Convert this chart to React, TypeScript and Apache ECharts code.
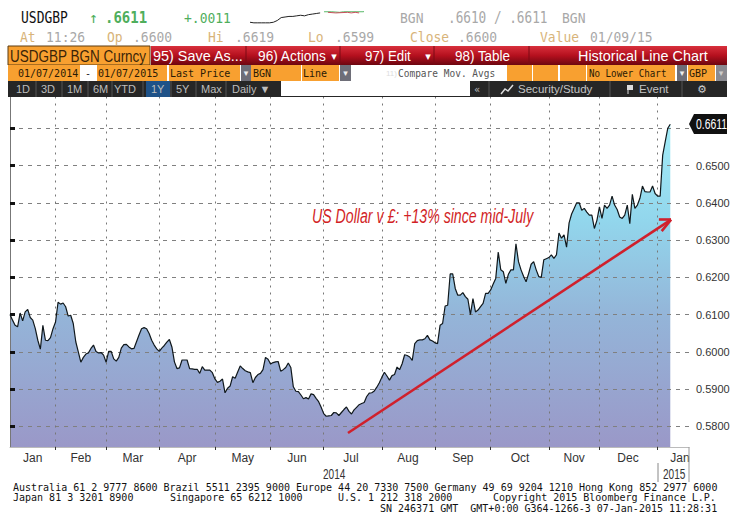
import React, { useEffect, useRef } from "react";
import * as echarts from "echarts";

// Daily USDGBP closes, one per trading session from 07 Jan 2014 to 07 Jan 2015
const closes = [
  0.61, 0.6085, 0.6071, 0.6067, 0.6104, 0.6083, 0.6107, 0.6114, 0.6092, 0.6085,
  0.6062, 0.6031, 0.6007, 0.6071, 0.6031, 0.603, 0.6038, 0.6062, 0.608, 0.6133,
  0.6128, 0.6131, 0.6121, 0.6096, 0.6098, 0.6076, 0.6027, 0.6, 0.5972, 0.5985,
  0.5994, 0.5997, 0.6009, 0.6018, 0.6001, 0.5997, 0.5998, 0.5991, 0.5972, 0.6001,
  0.6001, 0.5981, 0.5975, 0.5985, 0.601, 0.6019, 0.602, 0.6013, 0.6008, 0.6009,
  0.6027, 0.6045, 0.6062, 0.6065, 0.6062, 0.6049, 0.6031, 0.6018, 0.6008, 0.6001,
  0.601, 0.6017, 0.6026, 0.6033, 0.6013, 0.5973, 0.5955, 0.5957, 0.5978, 0.5978,
  0.5978, 0.5955, 0.5954, 0.5953, 0.5953, 0.5942, 0.596, 0.5951, 0.5951, 0.5951,
  0.5944, 0.5927, 0.5918, 0.5921, 0.5927, 0.589, 0.5902, 0.5908, 0.5933, 0.5929,
  0.5946, 0.5962, 0.5955, 0.5949, 0.5946, 0.5944, 0.5917, 0.5931, 0.5939, 0.5942,
  0.5952, 0.5985, 0.598, 0.5967, 0.5971, 0.5973, 0.5974, 0.5948, 0.5952, 0.5958,
  0.597, 0.5958, 0.5906, 0.5894, 0.5893, 0.5884, 0.5874, 0.5877, 0.5873, 0.5887,
  0.5885, 0.5875, 0.5866, 0.5851, 0.5834, 0.5827, 0.5828, 0.5829, 0.5837, 0.5836,
  0.5829, 0.5837, 0.5845, 0.5852, 0.584, 0.5833, 0.5844, 0.5851, 0.5858, 0.5861,
  0.5864, 0.588, 0.5889, 0.589, 0.5895, 0.5905, 0.5917, 0.5932, 0.5945, 0.5935,
  0.5924, 0.5936, 0.5939, 0.5959, 0.5952, 0.5968, 0.5992, 0.599, 0.5986, 0.5977,
  0.6022, 0.603, 0.6032, 0.6032, 0.6035, 0.6044, 0.6032, 0.6029, 0.6024, 0.6022,
  0.6071, 0.6076, 0.6123, 0.6125, 0.6209, 0.6209, 0.617, 0.6152, 0.6152, 0.6159,
  0.6148, 0.6141, 0.61, 0.6143, 0.6107, 0.6112, 0.6121, 0.613, 0.6157, 0.6157,
  0.6166, 0.6182, 0.6197, 0.6268, 0.622, 0.6215, 0.6184, 0.6208, 0.622, 0.622,
  0.629, 0.6242, 0.622, 0.6203, 0.6188, 0.621, 0.6235, 0.6242, 0.622, 0.6202,
  0.62, 0.6247, 0.625, 0.6253, 0.626, 0.6251, 0.626, 0.6319, 0.6305, 0.6314,
  0.6281, 0.6346, 0.637, 0.6385, 0.64, 0.64, 0.638, 0.6385, 0.6375, 0.6367,
  0.6367, 0.6331, 0.6353, 0.6389, 0.6358, 0.6394, 0.6385, 0.6394, 0.6418, 0.6394,
  0.6382, 0.6362, 0.6358, 0.6367, 0.6394, 0.6344, 0.6423, 0.6385, 0.6394, 0.6412,
  0.6445, 0.643, 0.6429, 0.6429, 0.6445, 0.6425, 0.6418, 0.6418, 0.6528, 0.6564,
  0.66, 0.6611,
];

const monthStarts = [18, 38, 59, 81, 103, 124, 147, 168, 190, 213, 233, 256];
const monthNames = ["Jan", "Feb", "Mar", "Apr", "May", "Jun", "Jul", "Aug", "Sep", "Oct", "Nov", "Dec", "Jan"];
const monthLabelAt = [9, 28, 48.6, 70, 92, 113.4, 134.8, 157.3, 179, 201.6, 223, 244.3, 264.8];
const priceGrid = [0.58, 0.59, 0.6, 0.61, 0.62, 0.63, 0.64, 0.65, 0.66];
const priceLabels = [0.58, 0.59, 0.6, 0.61, 0.62, 0.63, 0.64, 0.65];

const sparkEarlier = [0.66, 0.6599, 0.6599, 0.6599, 0.6599, 0.6599, 0.66, 0.6603, 0.6608, 0.6609, 0.661, 0.661, 0.6611, 0.6612, 0.6611, 0.6613, 0.6614, 0.6615, 0.6616];
const sparkUp = [0.6618, null, 0.6618, null, 0.6617, 0.6618, null, null, null, null, 0.6618, 0.6619];
const sparkDown = [null, 0.6617, null, 0.6616, null, null, 0.6617, 0.6616, 0.6617, 0.6616, null, null];

const arrowLine = [[133.6, 0.5782], [261.3, 0.6355]];
const arrowBarbs = [[[256.5, 0.6355], [261.3, 0.6355]], [[257.6, 0.6324], [261.3, 0.6355]]];

const MONO = '"DejaVu Sans Mono", monospace';
const SANS = '"Liberation Sans", sans-serif';
const GREEN = "#4fae5c";
const TAN = "#d8b47a";
const GREY = "#a8a8a8";
const ORANGE = "#f8a030";
const RED = "#d0202c";
const DARK = "#262626";

function label(text: string, x: number, y: number, fill: string, font: string, extra: any = {}) {
  const { scaleX, scaleY, align, z } = extra;
  return {
    type: "text", x, y, scaleX: scaleX ?? 1, scaleY: scaleY ?? 1, z: z ?? 20,
    style: { text, x: 0, y: 0, fill, font, textAlign: align ?? "left", textVerticalAlign: "middle" },
  };
}
function box(x: number, y: number, width: number, height: number, fill: any, extra: any = {}) {
  return { type: "rect", shape: { x, y, width, height }, z: 15, style: { fill, ...extra } };
}
function rule(x1: number, y1: number, x2: number, y2: number, stroke: string, lineWidth = 1) {
  return { type: "line", shape: { x1, y1, x2, y2 }, z: 16, style: { stroke, lineWidth } };
}

function headerGraphics() {
  const m13 = `13px ${MONO}`;
  const s14 = `14px ${SANS}`;
  const redBar = new echarts.graphic.LinearGradient(0, 0, 0, 1, [
    { offset: 0, color: "#d8303c" },
    { offset: 0.5, color: "#b5101e" },
    { offset: 1, color: "#6d0610" },
  ]);
  const els: any[] = [
    // first two rows
    label("USDGBP", 21, 18, "#111", m13, { scaleY: 1.2 }),
    label("↑", 89, 18, GREEN, `15px ${MONO}`),
    label(".6611", 105, 18, GREEN, `bold 14px ${MONO}`, { scaleY: 1.15 }),
    label("+.0011", 184, 18, GREEN, m13, { scaleY: 1.15 }),
    label("BGN", 400, 18, GREY, m13, { scaleY: 1.15 }),
    label(".6610 / .6611", 448, 18, GREY, `12px ${MONO}`, { scaleX: 1.06, scaleY: 1.25 }),
    label("BGN", 562, 18, GREY, m13, { scaleY: 1.15 }),
    label("At", 20, 37, TAN, m13, { scaleY: 1.15 }),
    label("11:26", 46, 37, GREY, m13, { scaleY: 1.15 }),
    label("Op", 107, 37, TAN, m13, { scaleY: 1.15 }),
    label(".6600", 133, 37, GREY, m13, { scaleY: 1.15 }),
    label("Hi", 208, 37, TAN, m13, { scaleY: 1.15 }),
    label(".6619", 235, 37, GREY, m13, { scaleY: 1.15 }),
    label("Lo", 308, 37, TAN, m13, { scaleY: 1.15 }),
    label(".6599", 335, 37, GREY, m13, { scaleY: 1.15 }),
    label("Close", 410, 37, TAN, m13, { scaleY: 1.15 }),
    label(".6600", 458, 37, GREY, m13, { scaleY: 1.15 }),
    label("Value", 540, 37, TAN, m13, { scaleY: 1.15 }),
    label("01/09/15", 590, 37, GREY, m13, { scaleY: 1.15 }),

    // title bar
    box(8, 46, 142, 19, ORANGE, { stroke: "#5a3a10", lineWidth: 1 }),
    label("USDGBP BGN Curncy", 10, 56, "#3a2408", `15px ${SANS}`, { scaleX: 0.9, scaleY: 1.12 }),
    box(151, 46, 576, 19, redBar),
    rule(246, 46, 246, 65, "#7a0a14"),
    rule(340, 46, 340, 65, "#7a0a14"),
    rule(434, 46, 434, 65, "#7a0a14"),
    rule(529, 46, 529, 65, "#7a0a14"),
    label("95) Save As...", 153, 56, "#fff", s14, { scaleX: 1.03, scaleY: 1.1 }),
    label("96) Actions", 258, 56, "#fff", s14, { scaleX: 0.98, scaleY: 1.1 }),
    label("▾", 334, 56, "#fff", `11px "DejaVu Sans"`, { align: "center" }),
    label("97) Edit", 365, 56, "#fff", s14, { scaleX: 0.95, scaleY: 1.1 }),
    label("▾", 428, 56, "#fff", `11px "DejaVu Sans"`, { align: "center" }),
    label("98) Table", 455, 56, "#fff", s14, { scaleX: 0.96, scaleY: 1.1 }),
    label("Historical Line Chart", 578, 56, "#fff", s14, { scaleX: 1.03, scaleY: 1.1 }),

    // parameters row
    box(8, 65, 72, 16, ORANGE),
    label("01/07/2014", 18, 73, "#2a1a05", `10px ${MONO}`),
    box(80, 65, 17, 16, "#fff"),
    label("-", 88, 73, "#222", `10px ${MONO}`, { align: "center" }),
    box(97, 65, 70, 16, ORANGE),
    label("01/07/2015", 98, 73, "#2a1a05", `10px ${MONO}`),
    box(169, 65, 71, 16, ORANGE),
    label("Last Price", 170, 73, "#2a1a05", `10px ${MONO}`),
    box(241, 65, 10, 16, "#6e6e78"),
    label("▾", 246, 73, "#eee", `9px "DejaVu Sans"`, { align: "center" }),
    box(251, 65, 50, 16, ORANGE),
    label("BGN", 253, 73, "#2a1a05", `10px ${MONO}`),
    box(302, 65, 37, 16, ORANGE),
    label("Line", 303, 73, "#2a1a05", `10px ${MONO}`),
    box(340, 65, 11, 16, "#6e6e78"),
    label("▾", 345.5, 73, "#eee", `9px "DejaVu Sans"`, { align: "center" }),
    box(351, 65, 156, 16, "#fff"),
    label("11)", 386, 73, "#ddd", `8px ${SANS}`),
    label("Compare Mov. Avgs", 398, 73, "#555", `10px ${MONO}`, { scaleX: 0.95 }),
    box(507, 65, 25, 16, ORANGE),
    box(533, 65, 25, 16, ORANGE),
    box(560, 65, 26, 16, ORANGE),
    box(587, 65, 88, 16, ORANGE),
    label("No Lower Chart", 589, 73, "#2a1a05", `10px ${MONO}`, { scaleX: 0.92 }),
    box(677, 65, 10, 16, "#6e6e78"),
    label("▾", 682, 73, "#eee", `9px "DejaVu Sans"`, { align: "center" }),
    box(688, 65, 27, 16, ORANGE),
    label("GBP", 689, 73, "#2a1a05", `10px ${MONO}`),
    box(716, 65, 11, 16, "#8a8a90"),
    label("▾", 721, 73, "#ccc", `9px "DejaVu Sans"`, { align: "center" }),

    // period row
    box(8, 81, 719, 16, DARK),
    box(146, 81, 24, 16, "#1f5288"),
    box(281, 81, 189, 15, "#fff"),
    label("«", 477, 89, "#bbb", `10px "DejaVu Sans"`, { align: "center" }),
    label("Security/Study", 518, 89, "#c4c4c4", `11px ${SANS}`, { scaleX: 1.05 }),
    { type: "polyline", z: 20, shape: { points: [[501, 94], [505, 89], [508, 91], [513, 85]] }, style: { stroke: "#ddd", lineWidth: 1.5, fill: "none" } },
    box(627, 85, 6, 5, "#ddd"),
    rule(628, 85, 628, 94, "#ddd"),
    label("Event", 639, 89, "#c4c4c4", `11px ${SANS}`, { scaleX: 1.05 }),
    label("⚙", 702, 89, "#ccc", `11px "DejaVu Sans"`, { align: "center" }),
    rule(489, 81, 489, 97, "#555"),
    rule(610, 81, 610, 97, "#555"),
    rule(682, 81, 682, 97, "#555"),
  ];
  const periods: [string, number][] = [["1D", 16], ["3D", 41], ["1M", 67], ["6M", 93], ["YTD", 114], ["1Y", 151], ["5Y", 176], ["Max", 201], ["Daily ▼", 232]];
  periods.forEach(([t, x]) => els.push(label(t, x, 89, "#bdbdbd", `11px ${SANS}`)));
  [36, 62, 88, 112, 143, 171, 196, 226].forEach((x) => els.push(rule(x, 81, x, 97, "#555")));
  return els;
}

function footerGraphics() {
  const f = `10px ${MONO}`;
  return [
    label("2014", 323, 474, "#333", `14px ${SANS}`, { scaleX: 0.72, scaleY: 1.05 }),
    rule(658, 463, 658, 482, "#888"),
    label("2015", 663, 474, "#333", `14px ${SANS}`, { scaleX: 0.72, scaleY: 1.05 }),
    rule(689, 447, 689, 482, "#999"),
    label("Australia 61 2 9777 8600 Brazil 5511 2395 9000 Europe 44 20 7330 7500 Germany 49 69 9204 1210 Hong Kong 852 2977 6000", 13, 487, "#111", f),
    label("Japan 81 3 3201 8900", 13, 497.5, "#111", f),
    label("Singapore 65 6212 1000", 170, 497.5, "#111", f),
    label("U.S. 1 212 318 2000", 338, 497.5, "#111", f),
    label("Copyright 2015 Bloomberg Finance L.P.", 493, 497.5, "#111", f),
    label("SN 246371 GMT  GMT+0:00 G364-1266-3 07-Jan-2015 11:28:31", 380, 508, "#111", f),
    { type: "polygon", z: 20, shape: { points: [[689, 124], [694, 114], [727, 114], [727, 134], [694, 134]] }, style: { fill: "#111" } },
    label("0.6611", 696, 124.5, "#fff", `13px ${SANS}`, { z: 21, scaleX: 0.8, scaleY: 1.1 }),
    label("US Dollar v £: +13% since mid-July", 312, 216, "#d21f26", `italic 19px ${SANS}`, { scaleX: 0.745, scaleY: 1.05 }),
  ];
}

function buildOption() {
  const points = closes.map((v, i) => [i, v]);
  const arrowData: any[] = [
    [{ coord: arrowLine[0] }, { coord: arrowLine[1] }],
    ...arrowBarbs.map((b) => [{ coord: b[0] }, { coord: b[1] }]),
  ];
  return {
    animation: false,
    backgroundColor: "#fff",
    grid: [
      { left: 10, right: 47, top: 96.5, bottom: 80 },
      { left: 250, width: 113, top: 10, height: 14 },
    ],
    xAxis: [
      {
        type: "value", min: 0, max: 268.4, z: 2,
        axisLine: { show: true, lineStyle: { color: "#bbb" } },
        axisTick: { show: true, customValues: monthStarts, length: 3, inside: false, lineStyle: { color: "#333" } },
        axisLabel: {
          show: true, customValues: monthLabelAt, margin: 5, color: "#333",
          fontFamily: SANS, fontSize: 12,
          formatter: (v: number) => monthNames[monthLabelAt.indexOf(v)] ?? "",
        },
        splitLine: { show: true, lineStyle: { color: "#777", type: [2, 5], width: 1 } },
      },
      { type: "category", gridIndex: 1, show: false, boundaryGap: false, data: Array.from({ length: 30 }, (_, i) => i) },
    ],
    yAxis: [
      {
        type: "value", position: "right", min: 0.57444, max: 0.66854, z: 2,
        axisLine: { show: true, lineStyle: { color: "#777" } },
        axisTick: { show: true, customValues: priceGrid, length: 5, lineStyle: { color: "#111", width: 3 } },
        axisLabel: {
          show: true, customValues: priceLabels, margin: 7, color: "#333",
          fontFamily: SANS, fontSize: 11,
          formatter: (v: number) => v.toFixed(4),
        },
        splitLine: { show: true, lineStyle: { color: "#808080", type: [4, 5], width: 1 } },
      },
      { type: "value", gridIndex: 1, show: false, min: 0.6597, max: 0.6621 },
    ],
    series: [
      {
        name: "area", type: "line", data: points, z: 1, showSymbol: false, symbol: "none",
        lineStyle: { width: 0 },
        areaStyle: {
          opacity: 1,
          color: new echarts.graphic.LinearGradient(0, 0, 0, 1, [
            { offset: 0, color: "#a2ecf8" },
            { offset: 0.3, color: "#92d6ec" },
            { offset: 0.6, color: "#94b4d8" },
            { offset: 1, color: "#9a98c8" },
          ]),
        },
      },
      {
        name: "USDGBP", type: "line", data: points, z: 3, showSymbol: false, symbol: "none",
        lineStyle: { color: "#10181c", width: 1.2 },
        markLine: {
          silent: true, symbol: "none", animation: false,
          lineStyle: { color: RED, width: 2.6, type: "solid" },
          label: { show: false },
          data: arrowData,
        },
      },
      {
        name: "sparkEarlier", type: "line", xAxisIndex: 1, yAxisIndex: 1, data: sparkEarlier, symbol: "none",
        lineStyle: { color: "#222", width: 1 },
      },
      {
        name: "sparkUp", type: "line", xAxisIndex: 1, yAxisIndex: 1, symbol: "none", connectNulls: true,
        data: [...sparkEarlier.map(() => null), ...sparkUp], lineStyle: { color: "#58b868", width: 1 },
      },
      {
        name: "sparkDown", type: "line", xAxisIndex: 1, yAxisIndex: 1, symbol: "none", connectNulls: true,
        data: [...sparkEarlier.map(() => null), ...sparkDown], lineStyle: { color: "#c8505a", width: 1 },
      },
    ],
    graphic: { elements: [...headerGraphics(), ...footerGraphics()] },
  };
}

export default function App() {
  const ref = useRef<HTMLDivElement>(null);
  useEffect(() => {
    document.body.style.margin = "0";
    const chart = echarts.init(ref.current!, undefined, { renderer: "svg" });
    chart.setOption(buildOption() as any);
    return () => chart.dispose();
  }, []);
  return <div ref={ref} style={{ width: 736, height: 527 }} />;
}
